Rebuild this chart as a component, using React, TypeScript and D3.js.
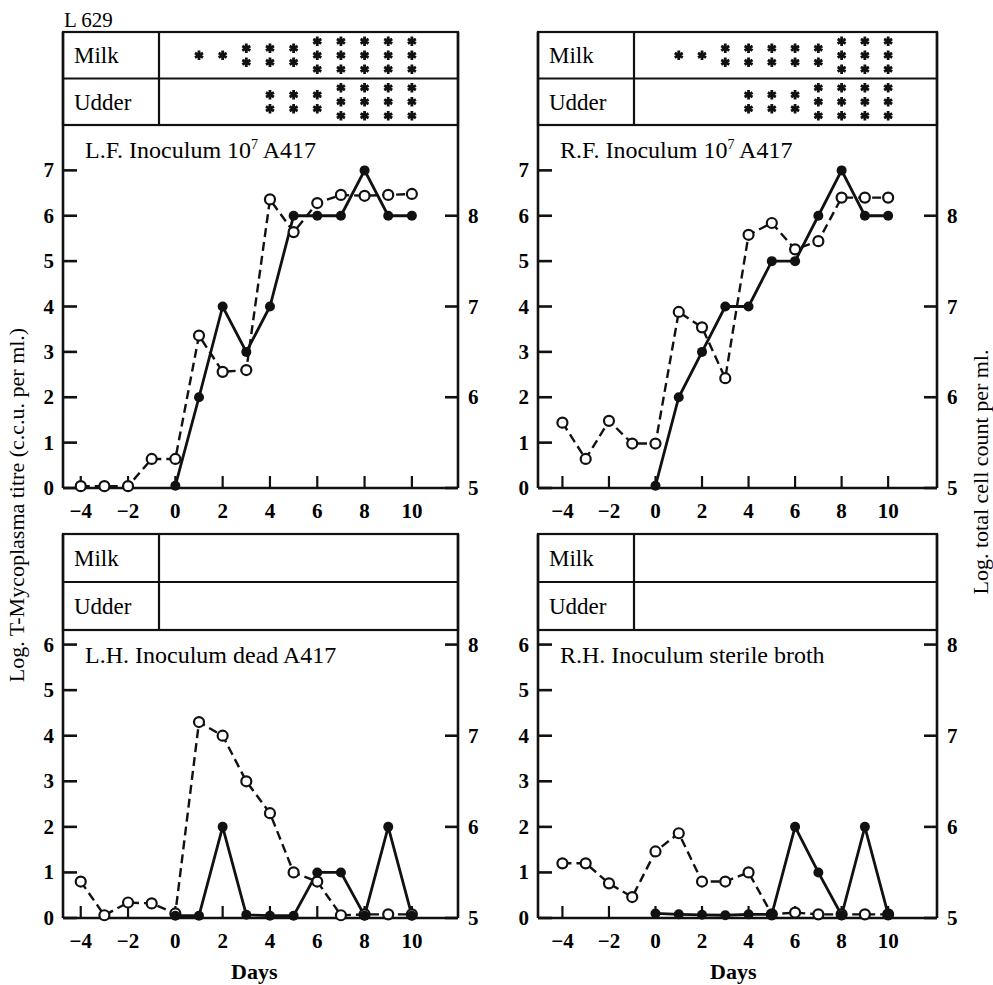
import React, { useEffect, useRef } from 'react';
import * as d3 from 'd3';

// days on which each series was sampled
const cellDays = [-4, -3, -2, -1, 0, 1, 2, 3, 4, 5, 6, 7, 8, 9, 10];
const titreDays = [0, 1, 2, 3, 4, 5, 6, 7, 8, 9, 10];
const starDays = [1, 2, 3, 4, 5, 6, 7, 8, 9, 10];

// L.F. quarter (10^7 A417)
const lfTitre = [0.05, 2, 4, 3, 4, 6, 6, 6, 7, 6, 6];
const lfCells = [5.02, 5.02, 5.02, 5.32, 5.32, 6.68, 6.28, 6.3, 8.18, 7.82, 8.14, 8.23, 8.22, 8.23, 8.24];
const lfMilk = [1, 1, 2, 2, 2, 3, 3, 3, 3, 3];
const lfUdder = [0, 0, 0, 2, 2, 2, 3, 3, 3, 3];

// R.F. quarter (10^7 A417)
const rfTitre = [0.05, 2, 3, 4, 4, 5, 5, 6, 7, 6, 6];
const rfCells = [5.72, 5.32, 5.74, 5.49, 5.49, 6.94, 6.77, 6.21, 7.79, 7.92, 7.63, 7.72, 8.2, 8.2, 8.2];
const rfMilk = [1, 1, 2, 2, 2, 2, 2, 3, 3, 3];
const rfUdder = [0, 0, 0, 2, 2, 2, 3, 3, 3, 3];

// L.H. quarter (dead A417)
const lhTitre = [0.05, 0.05, 2, 0.07, 0.05, 0.05, 1, 1, 0.05, 2, 0.05];
const lhCells = [5.4, 5.03, 5.17, 5.16, 5.05, 7.15, 7.0, 6.5, 6.15, 5.5, 5.4, 5.03, 5.04, 5.04, 5.04];

// R.H. quarter (sterile broth)
const rhTitre = [0.1, 0.08, 0.07, 0.06, 0.08, 0.08, 2, 1, 0.06, 2, 0.08];
const rhCells = [5.6, 5.6, 5.38, 5.23, 5.73, 5.93, 5.4, 5.4, 5.5, 5.04, 5.06, 5.04, 5.04, 5.04, 5.04];

const xTicks = [-4, -2, 0, 2, 4, 6, 8, 10];
const rightTicks = [5, 6, 7, 8];

const font = '"Liberation Serif", "Times New Roman", serif';
const ink = '#111';

const panels = [
  { title: 'L.F. Inoculum 10', sup: '7', rest: ' A417', titre: lfTitre, cells: lfCells, milk: lfMilk, udder: lfUdder,
    left: 63, right: 458, tableTop: 32, plotTop: 125, plotBottom: 488, yMax: 8, xMin: -4.75, xMax: 11.95, leftTicks: d3.range(0, 8), days: false },
  { title: 'R.F. Inoculum 10', sup: '7', rest: ' A417', titre: rfTitre, cells: rfCells, milk: rfMilk, udder: rfUdder,
    left: 538, right: 937, tableTop: 32, plotTop: 125, plotBottom: 488, yMax: 8, xMin: -5.05, xMax: 12.1, leftTicks: d3.range(0, 8), days: false },
  { title: 'L.H.  Inoculum dead A417', sup: '', rest: '', titre: lhTitre, cells: lhCells, milk: [], udder: [],
    left: 63, right: 458, tableTop: 534, plotTop: 630, plotBottom: 918, yMax: 6.32, xMin: -4.75, xMax: 11.95, leftTicks: d3.range(0, 7), days: true },
  { title: 'R.H. Inoculum sterile broth', sup: '', rest: '', titre: rhTitre, cells: rhCells, milk: [], udder: [],
    left: 538, right: 937, tableTop: 534, plotTop: 630, plotBottom: 918, yMax: 6.32, xMin: -5.05, xMax: 12.1, leftTicks: d3.range(0, 7), days: true },
];

const App = () => {
  const svgRef = useRef(null);

  useEffect(() => {
    const svg = d3.select(svgRef.current);
    svg.selectAll('*').remove();

    svg.append('text')
      .attr('x', 64).attr('y', 27)
      .attr('font-family', font).attr('font-size', 21)
      .text('L 629');

    panels.forEach(p => {
      const g = svg.append('g');
      const x = d3.scaleLinear().domain([p.xMin, p.xMax]).range([p.left, p.right]);
      const y = d3.scaleLinear().domain([0, p.yMax]).range([p.plotBottom, p.plotTop]);
      const yR = d3.scaleLinear().domain([5, 5 + p.yMax / 2]).range([p.plotBottom, p.plotTop]);
      const rowH = (p.plotTop - p.tableTop) / 2;
      const mid = p.tableTop + rowH;

      // table frame
      g.append('rect')
        .attr('x', p.left).attr('y', p.tableTop)
        .attr('width', p.right - p.left).attr('height', p.plotTop - p.tableTop)
        .attr('fill', 'none').attr('stroke', ink).attr('stroke-width', 2.2);
      g.append('line')
        .attr('x1', p.left).attr('x2', p.right).attr('y1', mid).attr('y2', mid)
        .attr('stroke', ink).attr('stroke-width', 2.2);
      g.append('line')
        .attr('x1', p.left + 96).attr('x2', p.left + 96).attr('y1', p.tableTop).attr('y2', p.plotTop)
        .attr('stroke', ink).attr('stroke-width', 2.2);
      g.append('text').attr('x', p.left + 11).attr('y', p.tableTop + rowH / 2 + 8)
        .attr('font-family', font).attr('font-size', 23).text('Milk');
      g.append('text').attr('x', p.left + 11).attr('y', mid + rowH / 2 + 8)
        .attr('font-family', font).attr('font-size', 23).text('Udder');

      // stars
      const star = d3.symbol().type(d3.symbolAsterisk).size(60);
      [[p.milk, p.tableTop], [p.udder, mid]].forEach(([counts, top]) => {
        (counts as number[]).forEach((n, i) => {
          for (let k = 0; k < n; k++) {
            g.append('path')
              .attr('d', star)
              .attr('transform', `translate(${x(starDays[i])},${top + rowH / 2 + (k - (n - 1) / 2) * 14})`)
              .attr('fill', 'none').attr('stroke', ink).attr('stroke-width', 2.8);
          }
        });
      });

      // plot frame
      g.append('line').attr('x1', p.left).attr('x2', p.left).attr('y1', p.tableTop).attr('y2', p.plotBottom)
        .attr('stroke', ink).attr('stroke-width', 2.6);
      g.append('line').attr('x1', p.right).attr('x2', p.right).attr('y1', p.tableTop).attr('y2', p.plotBottom)
        .attr('stroke', ink).attr('stroke-width', 2.6);
      g.append('line').attr('x1', p.left).attr('x2', p.right).attr('y1', p.plotBottom).attr('y2', p.plotBottom)
        .attr('stroke', ink).attr('stroke-width', 2.6);

      // left ticks
      p.leftTicks.forEach(t => {
        g.append('line').attr('x1', p.left).attr('x2', p.left + 14).attr('y1', y(t)).attr('y2', y(t))
          .attr('stroke', ink).attr('stroke-width', 2.6);
        g.append('text').attr('x', p.left - 9).attr('y', y(t) + 7)
          .attr('text-anchor', 'end').attr('font-family', font).attr('font-size', 21).attr('font-weight', 'bold')
          .text(t);
      });
      // right ticks
      rightTicks.forEach(t => {
        g.append('line').attr('x1', p.right - 13).attr('x2', p.right).attr('y1', yR(t)).attr('y2', yR(t))
          .attr('stroke', ink).attr('stroke-width', 2.6);
        g.append('text').attr('x', p.right + 10).attr('y', yR(t) + 7)
          .attr('font-family', font).attr('font-size', 21).attr('font-weight', 'bold')
          .text(t);
      });
      // x ticks
      xTicks.forEach(t => {
        g.append('line').attr('x1', x(t)).attr('x2', x(t)).attr('y1', p.plotBottom).attr('y2', p.plotBottom - 12)
          .attr('stroke', ink).attr('stroke-width', 2.2);
        g.append('text').attr('x', x(t)).attr('y', p.plotBottom + 30)
          .attr('text-anchor', 'middle').attr('font-family', font).attr('font-size', 21).attr('font-weight', 'bold')
          .text(t < 0 ? '\u2212' + Math.abs(t) : String(t));
      });
      if (p.days) {
        g.append('text').attr('x', (x(-4) + x(10)) / 2 + 8).attr('y', p.plotBottom + 61)
          .attr('text-anchor', 'middle').attr('font-family', font).attr('font-size', 22).attr('font-weight', 'bold')
          .text('Days');
      }

      // title
      const title = g.append('text').attr('x', p.left + 22).attr('y', p.plotTop + 33)
        .attr('font-family', font).attr('font-size', 24);
      title.append('tspan').text(p.title);
      if (p.sup) {
        title.append('tspan').attr('font-size', 14).attr('dy', -9).text(p.sup);
        title.append('tspan').attr('dy', 9).text(p.rest);
      }

      // series
      const cellPts = cellDays.map((d, i) => [x(d), yR(p.cells[i])]);
      const titrePts = titreDays.map((d, i) => [x(d), y(p.titre[i])]);
      const line = d3.line();
      g.append('path').attr('d', line(cellPts as [number, number][]))
        .attr('fill', 'none').attr('stroke', ink).attr('stroke-width', 2.4).attr('stroke-dasharray', '9,5');
      g.append('path').attr('d', line(titrePts as [number, number][]))
        .attr('fill', 'none').attr('stroke', ink).attr('stroke-width', 2.8);
      g.selectAll('.open').data(cellPts).enter().append('circle')
        .attr('cx', d => d[0]).attr('cy', d => d[1]).attr('r', 5)
        .attr('fill', 'white').attr('stroke', ink).attr('stroke-width', 2.2);
      g.selectAll('.filled').data(titrePts).enter().append('circle')
        .attr('cx', d => d[0]).attr('cy', d => d[1]).attr('r', 5)
        .attr('fill', ink);
    });

    // axis titles
    svg.append('text')
      .attr('transform', 'translate(24,505) rotate(-90)')
      .attr('text-anchor', 'middle').attr('font-family', font).attr('font-size', 22)
      .text('Log. T-Mycoplasma titre (c.c.u. per ml.)');
    svg.append('text')
      .attr('transform', 'translate(988,472) rotate(-90)')
      .attr('text-anchor', 'middle').attr('font-family', font).attr('font-size', 22)
      .text('Log. total cell count per ml.');
  }, []);

  return (
    <svg ref={svgRef} width="993" height="985" style={{ position: 'absolute', left: 0, top: 0, background: 'white' }}></svg>
  );
};

export default App;
